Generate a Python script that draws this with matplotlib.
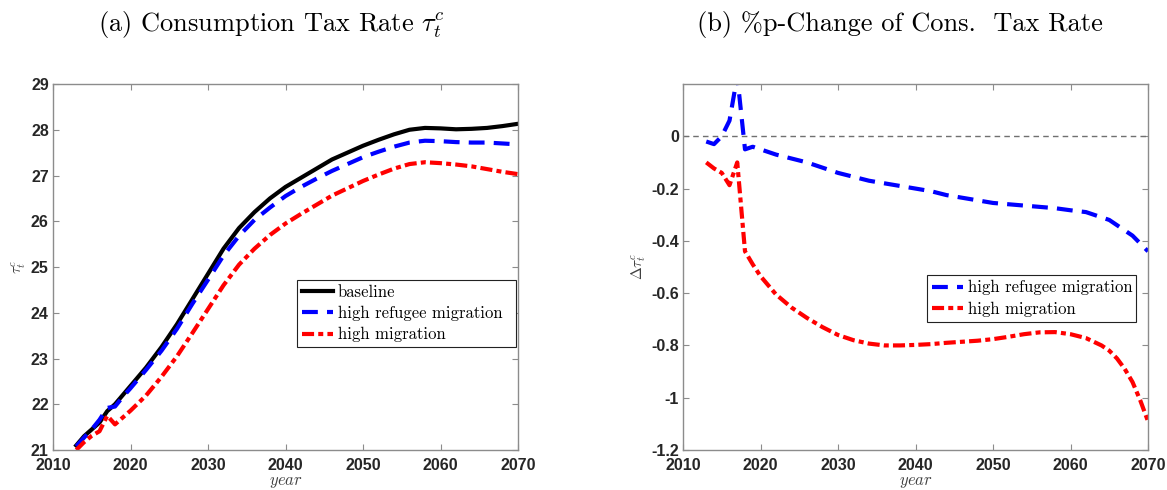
import numpy as np
import matplotlib
matplotlib.use('Agg')
import matplotlib.pyplot as plt

# ---- data ----
years_a = [2013, 2014, 2015, 2016, 2017, 2018, 2019, 2020, 2022, 2024, 2026, 2028,
           2030, 2032, 2034, 2036, 2038, 2040, 2042, 2044, 2046, 2048, 2050, 2052,
           2054, 2056, 2058, 2060, 2062, 2064, 2066, 2068, 2070]
baseline = [21.1, 21.3, 21.45, 21.6, 21.85, 22.0, 22.2, 22.4, 22.8, 23.25, 23.75, 24.3,
            24.85, 25.4, 25.85, 26.2, 26.5, 26.75, 26.95, 27.15, 27.35, 27.5, 27.65, 27.78,
            27.9, 28.0, 28.04, 28.03, 28.01, 28.02, 28.04, 28.08, 28.13]
refugee = [21.08, 21.27, 21.45, 21.66, 21.92, 21.95, 22.16, 22.35, 22.75, 23.17, 23.65, 24.2,
           24.72, 25.25, 25.68, 26.03, 26.3, 26.55, 26.75, 26.93, 27.1, 27.25, 27.4, 27.52,
           27.63, 27.72, 27.76, 27.75, 27.73, 27.72, 27.72, 27.7, 27.68]
migration = [21.0, 21.17, 21.31, 21.41, 21.75, 21.56, 21.71, 21.86, 22.19, 22.6, 23.05, 23.56,
             24.08, 24.6, 25.05, 25.4, 25.7, 25.95, 26.16, 26.36, 26.56, 26.72, 26.88, 27.02,
             27.15, 27.25, 27.29, 27.27, 27.24, 27.2, 27.14, 27.08, 27.03]

years_b = [2013, 2014, 2015, 2016, 2017, 2018, 2019, 2020, 2022, 2024, 2026, 2028,
           2030, 2032, 2034, 2036, 2038, 2040, 2042, 2044, 2046, 2048, 2050, 2052,
           2054, 2056, 2058, 2060, 2062, 2064, 2065, 2066, 2067, 2068, 2069, 2070]
d_refugee = [-0.02, -0.03, 0.0, 0.06, 0.23, -0.05, -0.04, -0.05, -0.07, -0.085, -0.1, -0.12,
             -0.14, -0.155, -0.17, -0.18, -0.19, -0.2, -0.21, -0.225, -0.235, -0.245, -0.255, -0.26,
             -0.265, -0.27, -0.275, -0.283, -0.29, -0.31, -0.32, -0.34, -0.36, -0.38, -0.41, -0.44]
d_migration = [-0.1, -0.123, -0.14, -0.187, -0.1, -0.44, -0.49, -0.535, -0.605, -0.655, -0.695, -0.73,
               -0.76, -0.78, -0.793, -0.8, -0.8, -0.798, -0.795, -0.79, -0.786, -0.782, -0.776, -0.767,
               -0.757, -0.75, -0.749, -0.757, -0.772, -0.8, -0.82, -0.85, -0.89, -0.94, -1.01, -1.09]

xticks = [2010, 2020, 2030, 2040, 2050, 2060, 2070]
yticks_a = [21, 22, 23, 24, 25, 26, 27, 28, 29]
yticks_b = [-1.2, -1, -0.8, -0.6, -0.4, -0.2, 0]
yticklabels_b = ['-1.2', '-1', '-0.8', '-0.6', '-0.4', '-0.2', '0']

# ---- style ----
plt.rcParams['mathtext.fontset'] = 'cm'
TICK_FONT = dict(family='Liberation Sans', weight='bold', size=11.5)
CM = 'cmr10'
AX_GRAY = '#8c8c8c'
LW = 3.0
DASH = (3.8, 2.2)
DASHDOT = (2.9, 1.0, 1.2, 1.0)


def style_axes(ax):
  ax.set_xlim(2010, 2070)
  ax.set_xticks(xticks)
  ax.tick_params(axis='x', pad=5.5)
  ax.tick_params(axis='y', pad=3)
  ax.tick_params(direction='in', top=True, right=True, length=4, width=0.8,
                 color=AX_GRAY, labelcolor='#262626')
  for s in ax.spines.values():
    s.set_color(AX_GRAY)
    s.set_linewidth(1.0)
  for lab in ax.get_xticklabels() + ax.get_yticklabels():
    lab.set_fontfamily(TICK_FONT['family'])
    lab.set_fontweight(TICK_FONT['weight'])
    lab.set_fontsize(TICK_FONT['size'])
  ax.set_xlabel(r'$\mathit{year}$', fontsize=12, color='#404040', labelpad=-0.5)


def add_legend(ax, anchor):
  # anchor = (x0, y_top, width) in axes fraction; MATLAB-like box with spare room on the right
  x0, y_top, w = anchor
  leg = ax.legend(loc='upper left', bbox_to_anchor=(x0, y_top - 0.3, w, 0.3), mode='expand',
                  prop=dict(family=CM, size=12),
                  frameon=True, fancybox=False, framealpha=1, edgecolor='#222222',
                  handlelength=1.85, handletextpad=0.3, borderpad=0.3, labelspacing=0.35,
                  borderaxespad=0)
  leg.get_frame().set_linewidth(0.8)
  return leg


fig = plt.figure(figsize=(11.67, 4.9), dpi=100)
ax1 = fig.add_axes([53/1167, 1 - 450/490, 465/1167, 366/490])
ax2 = fig.add_axes([683/1167, 1 - 450/490, 465/1167, 366/490])

# panel (a)
ax1.plot(years_a, baseline, color='black', lw=LW, label='baseline')
ax1.plot(years_a, refugee, color='blue', lw=LW, dashes=DASH, label='high refugee migration')
ax1.plot(years_a, migration, color='red', lw=LW, dashes=DASHDOT, label='high migration')
ax1.set_ylim(21, 29)
ax1.set_yticks(yticks_a)
style_axes(ax1)
ax1.set_ylabel(r'$\tau_t^c$', fontsize=11, color='#404040', labelpad=2)
add_legend(ax1, (0.525, 0.465, 0.471))

# panel (b)
ax2.axhline(0, color='#707070', lw=1.0, ls=(0, (4, 3)))
ax2.plot(years_b, d_refugee, color='blue', lw=LW, dashes=DASH, label='high refugee migration')
ax2.plot(years_b, d_migration, color='red', lw=LW, dashes=DASHDOT, label='high migration')
ax2.set_ylim(-1.2, 0.2)
ax2.set_yticks(yticks_b)
ax2.set_yticklabels(yticklabels_b)
style_axes(ax2)
ax2.set_ylabel(r'$\Delta\tau_t^c$', fontsize=11, color='#404040', labelpad=2)
add_legend(ax2, (0.525, 0.478, 0.449))

# panel captions
fig.text(271/1167, 1 - 24/490, r'(a) Consumption Tax Rate $\tau_t^c$', family=CM, fontsize=19,
         ha='center', va='center')
fig.text(900/1167, 1 - 24/490, '(b) %p-Change of Cons.  Tax Rate', family=CM, fontsize=19,
         ha='center', va='center')

fig.savefig('out.png', dpi=100)
